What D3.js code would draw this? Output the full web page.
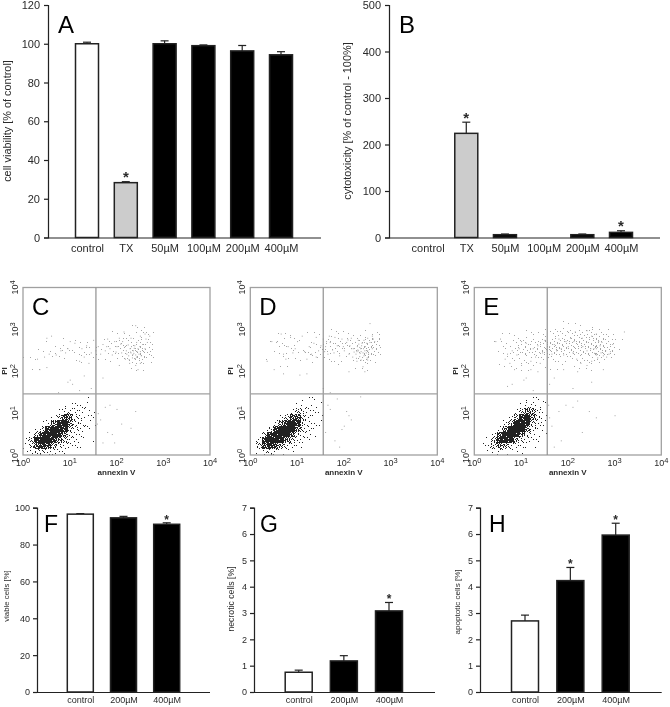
<!DOCTYPE html>
<html><head><meta charset="utf-8">
<script src="https://cdn.jsdelivr.net/npm/d3@7"></script>
<style>
html,body{margin:0;padding:0;background:#fff}
svg{display:block}
text{font-family:"Liberation Sans",Arial,sans-serif;fill:#2a2a2a}
</style></head><body>
<svg id="c" width="670" height="707"></svg>
<script>
// ---------- bar chart data ----------
const catsTop = ["control","TX","50µM","100µM","200µM","400µM"];
const catsBottom = ["control","200µM","400µM"];
const fillsTop = ["#fff","#ccc","#000","#000","#000","#000"];
const fillsBottom = ["#fff","#000","#000"];
const viability = [100,28.3,100,99,96.3,94.3];
const viabilityErr = [0.8,0.5,1.5,0.4,2.8,1.6];
const viabilityStar = [0,1,0,0,0,0];
const cytotoxicity = [0,224,6,0,6,11];
const cytotoxicityErr = [0,24,1.5,0,1.5,3.5];
const cytotoxicityStar = [0,1,0,0,0,1];
const viable = [96.5,94.5,91];
const viableErr = [0.3,0.8,0.8];
const viableStar = [0,0,1];
const necrotic = [0.75,1.18,3.08];
const necroticErr = [0.08,0.2,0.32];
const necroticStar = [0,0,1];
const apoptotic = [2.7,4.23,5.96];
const apoptoticErr = [0.22,0.5,0.45];
const apoptoticStar = [0,1,1];

// ---------- flow cytometry data (log10 annexin V, log10 PI) ----------
const decadeLabels = [0,1,2,3,4];
// density of the viable population, 0-9; rows top to bottom, cell .12 x .14 decades
const densityC = [
[0,0,0,0,0,0,0,0,0,0,1,1,0],
[0,0,0,0,0,0,0,1,1,1,1,1,0],
[0,0,0,0,0,0,1,2,3,2,2,1,1],
[0,0,0,0,0,1,4,7,6,3,2,1,1],
[0,0,0,1,2,6,8,9,6,3,2,1,1],
[0,0,1,4,8,9,9,8,4,3,2,1,0],
[0,1,5,8,9,9,8,6,3,2,1,1,0],
[1,4,8,9,9,8,6,4,2,2,1,0,1],
[1,4,7,8,7,5,3,2,2,1,1,0,0],
[1,2,3,3,2,2,1,1,0,0,0,0,0]];
const densityD = [
[0,0,0,0,0,0,0,0,0,1,1,1,0],
[0,0,0,0,0,0,0,0,1,1,1,1,1],
[0,0,0,0,0,0,1,2,4,3,2,1,1],
[0,0,0,0,0,1,4,7,7,4,2,1,1],
[0,0,0,0,2,6,8,9,8,4,2,1,1],
[0,0,0,3,7,9,9,9,6,3,2,1,0],
[0,0,4,8,9,9,9,7,3,2,1,1,0],
[0,3,8,9,9,9,6,4,2,1,1,0,0],
[0,4,7,8,7,5,3,2,1,1,0,0,0],
[0,1,2,3,2,1,1,1,0,0,0,0,0]];
const densityE = [
[0,0,0,0,0,0,0,0,0,1,1,1,1],
[0,0,0,0,0,0,0,1,1,2,2,1,1],
[0,0,0,0,0,0,0,2,4,6,5,2,1],
[0,0,0,0,0,0,2,5,8,9,6,3,1],
[0,0,0,0,0,2,5,9,9,8,4,2,1],
[0,0,0,0,2,6,9,9,9,6,3,1,1],
[0,0,0,2,7,9,9,9,6,3,2,1,1],
[0,0,1,5,8,9,8,5,3,2,1,1,0],
[0,1,2,4,6,5,3,2,2,1,1,0,0],
[0,0,1,1,2,1,1,1,1,0,0,0,0]];
// density of the upper PI band, dots per stipple tile; rows from log PI 3.2 down to 2.0, cell .2 x .2 decades
const bandC = [
[0,0,0,0,0,0,0,0,0,0,0,1,1,0,0,0],
[0,0,0,0,0,0,0,0,0,1,1,1,2,2,0,0],
[0,0,1,0,1,1,1,0,1,2,3,3,4,3,0,0],
[0,1,1,1,2,2,2,1,1,2,3,3,7,4,0,0],
[1,1,0,1,1,1,1,1,1,1,2,3,6,2,0,0],
[0,1,0,0,0,0,0,0,0,0,0,1,1,0,0,0]];
const bandD = [
[0,0,0,0,0,0,0,0,0,0,0,0,0,0,0,0],
[0,0,0,1,1,0,1,1,1,2,1,1,1,2,0,0],
[0,0,1,2,1,1,1,1,3,3,3,3,5,5,0,0],
[0,0,1,1,2,2,2,2,3,3,2,3,8,5,0,0],
[0,1,0,1,1,1,1,1,2,1,1,2,5,1,0,0],
[0,0,0,1,0,0,0,0,0,1,0,1,1,0,0,0]];
const bandE = [
[0,0,0,0,0,0,0,0,0,1,1,1,1,0,0,0],
[0,0,0,1,1,1,2,2,3,3,4,4,4,3,2,0],
[0,0,1,1,3,3,4,6,6,6,6,6,6,6,4,1],
[0,0,1,2,4,5,5,7,7,6,7,6,6,7,5,1],
[0,0,0,1,2,2,2,2,3,2,2,3,3,3,1,0],
[0,0,1,1,1,1,1,1,1,1,1,1,1,0,0,0]];
// how many of the 49 stipple positions each density step lights
const densitySteps = [0,2,4,7,12,18,26,35,43,48];
// fixed stipple order used to turn a density cell into grain
const grainOrder = [
[31,7,44,18,2,37,24],
[12,40,26,48,15,33,5],
[46,21,3,35,9,42,28],
[17,38,29,11,47,20,0],
[6,43,14,25,34,8,39],
[27,1,36,45,19,30,13],
[41,22,10,32,4,23,16]];
const cellsC = [[2.3,2.45],[2.35,2.5],[2.4,2.4],[2.25,2.38],[2.45,2.55],[2.38,2.62],[2.28,2.55],[2.42,2.35],[2.5,2.48],[2.33,2.33],[2.2,2.5],[2.47,2.42],[2.36,2.44],[2.31,2.6],[2.55,2.65],[2.42,2.7],[2.5,2.85],[2.6,2.9],[2.3,2.8],[2.12,2.72],[2.05,2.8],[1.95,2.72],[2,2.6],[1.85,2.55],[1.75,2.5],[1.7,2.65],[1.65,2.42],[1.8,2.78],[2.15,2.95],[2.4,3.1],[2.65,2.7],[2.6,2.55],[2.18,2.3],[2.27,2.2],[2.4,2.15],[2.5,2.2],[2.1,2.45],[1.9,2.4],[1.6,2.6],[1.55,2.5],[1.45,2.45],[1.35,2.62],[1.25,2.55],[1.1,2.68],[1,2.72],[0.95,2.55],[0.9,2.45],[0.8,2.5],[0.7,2.4],[0.55,2.42],[0.45,2.35],[0.3,2.3],[0.6,2.85],[0.5,2.8],[1.3,2.35],[1.2,2.25],[1.4,2.2],[1.5,2.75],[0.35,2.05],[0.5,2.1],[1,1.8],[0.95,1.75],[1.05,1.7],[0.75,1.5],[1.2,1.55],[1.45,1.6],[1.3,1.9],[1.7,1.85],[2.45,2.05],[2.05,2.15],[2.34,2.41],[2.29,2.47],[2.44,2.47],[2.39,2.31],[2.26,2.29],[2.37,2.56],[2.21,2.42],[2.52,2.38],[2.16,2.58],[2.08,2.66],[1.98,2.47],[1.78,2.6],[2.62,2.78],[2.7,2.85],[2.24,2.64],[2.49,2.6],[1.6,1.0],[1.65,0.85],[1.58,0.75],[1.75,1.15],[1.85,1.2],[2,1.1],[2.4,1.05],[1.9,0.5],[1.95,0.3],[1.8,0.55],[2.1,0.75],[2.3,0.65],[1.7,0.3]];
const cellsD = [[2.3,2.5],[2.35,2.55],[2.4,2.45],[2.25,2.42],[2.45,2.6],[2.38,2.68],[2.28,2.6],[2.42,2.38],[2.5,2.5],[2.33,2.36],[2.2,2.55],[2.47,2.45],[2.36,2.48],[2.31,2.66],[2.55,2.7],[2.42,2.75],[2.5,2.8],[2.6,2.85],[2.3,2.75],[2.12,2.62],[2.05,2.7],[1.95,2.78],[2,2.5],[1.85,2.62],[1.75,2.52],[1.7,2.7],[1.65,2.42],[1.8,2.82],[2.15,2.8],[2.55,3.15],[2.65,2.72],[2.6,2.55],[2.18,2.35],[2.27,2.25],[2.4,2.12],[2.5,2.28],[2.1,2.42],[1.9,2.38],[1.6,2.6],[1.55,2.78],[1.45,2.5],[1.35,2.68],[1.25,2.6],[1.1,2.85],[1,2.72],[0.95,2.55],[0.9,2.45],[0.8,2.6],[0.7,2.42],[0.55,2.7],[0.45,2.72],[0.35,2.25],[0.65,2.9],[0.85,2.82],[1.3,2.42],[1.2,2.3],[1.4,2.35],[1.5,2.62],[1.58,2.48],[1.62,2.72],[1.68,2.85],[1.4,2.82],[1.15,2.48],[0.75,2.3],[0.5,2.05],[0.7,1.95],[1.05,1.92],[1.2,1.95],[1.7,1.5],[1.55,1.6],[2.1,2],[2.44,2.0],[2.34,2.44],[2.29,2.52],[2.44,2.5],[2.39,2.34],[2.26,2.32],[2.37,2.62],[2.21,2.47],[2.52,2.42],[2.16,2.55],[2.08,2.76],[1.98,2.6],[1.78,2.45],[2.62,2.78],[2.48,2.68],[2.24,2.7],[2.49,2.33],[2.33,2.58],[2.41,2.55],[2.27,2.48],[2.36,2.28],[1.65,1.2],[1.85,1.35],[2.35,1.4],[1.7,1.1],[2.05,1.05],[2.15,0.85],[2,0.7],[1.95,0.62],[2.1,0.95],[1.8,0.35],[1.9,0.2],[1.6,0.55]];
const cellsE = [[2.7,2.45],[2.8,2.5],[2.6,2.4],[2.75,2.38],[2.55,2.55],[2.68,2.62],[2.48,2.55],[2.82,2.35],[2.9,2.48],[2.63,2.33],[2.4,2.5],[2.87,2.42],[2.56,2.44],[2.31,2.6],[2.95,2.65],[2.72,2.7],[2.5,2.85],[2.6,2.9],[2.3,2.8],[2.12,2.72],[2.05,2.8],[1.95,2.72],[2,2.6],[1.85,2.55],[1.75,2.5],[1.7,2.65],[1.65,2.42],[1.8,2.78],[2.15,2.95],[2.4,2.98],[2.65,2.72],[2.6,2.55],[2.18,2.3],[2.27,2.2],[2.4,2.15],[2.5,2.25],[2.1,2.45],[1.9,2.4],[1.6,2.6],[1.55,2.5],[1.45,2.45],[1.35,2.62],[1.25,2.55],[1.1,2.68],[1,2.72],[0.95,2.55],[0.9,2.4],[0.8,2.5],[0.7,2.42],[0.55,2.78],[0.45,2.72],[1.3,2.35],[1.2,2.25],[1.4,2.2],[1.5,2.75],[0.75,2.2],[1,2.15],[0.85,2.05],[0.65,2.3],[1.1,1.85],[1.05,1.8],[1.2,2.05],[1.35,2.0],[0.8,1.7],[0.7,1.65],[1.7,1.85],[1.9,2.05],[2.2,2.0],[2.75,2.05],[2.5,1.75],[2.1,1.6],[1.25,1.55],[1.6,1.7],[3.2,2.95],[2.45,1.05],[1.95,1.2],[2.1,1.15],[1.6,0.9],[1.65,0.7],[2.6,0.9],[2.3,0.55],[1.8,1.05],[1.85,0.35],[1.7,0.2],[2.2,1.3],[1.58,1.2],[3,0.95]];

// ---------- bar panels ----------
const svg = d3.select("#c");
const defs = svg.append("defs");
defs.append("filter").attr("id","soft").append("feGaussianBlur").attr("stdDeviation",0.3);
defs.append("filter").attr("id","grain").append("feGaussianBlur").attr("stdDeviation",0.5);
defs.append("filter").attr("id","faint").append("feGaussianBlur").attr("stdDeviation",0.6);
const root = svg.append("g").attr("filter","url(#soft)");

function barPanel(o){
  const y = d3.scaleLinear().domain([0,o.max]).range([o.y0,o.y1]);
  const x = d3.scalePoint().domain(o.cats).range([o.cx0,o.cx1]);
  const g = root.append("g");
  const yAxis = g.append("g").attr("transform",`translate(${o.ax},0)`)
    .call(d3.axisLeft(y).tickValues(d3.range(0,o.max+o.step/2,o.step)).tickSize(4).tickPadding(o.pad).tickFormat(d3.format("d")));
  const xAxis = g.append("g").attr("transform",`translate(0,${o.y0})`)
    .call(d3.axisBottom(x).tickSize(0).tickPadding(o.xpad));
  xAxis.select(".domain").attr("d",`M${o.ax},0.5H${o.axEnd}`);
  [yAxis,xAxis].forEach(a=>{
    a.selectAll("text").style("font-size",o.fs+"px").style("font-family","'Liberation Sans'").attr("fill","#2a2a2a");
    a.selectAll(".domain,line").attr("stroke","#222").attr("stroke-width",1.2);
  });
  // error bars, upper only
  o.vals.forEach((v,i)=>{
    if(o.errs[i]===0) return;
    const cx=x(o.cats[i]), top=y(v+o.errs[i]);
    g.append("line").attr("x1",cx).attr("x2",cx).attr("y1",y(v)).attr("y2",top).attr("stroke","#222").attr("stroke-width",1.2);
    g.append("line").attr("x1",cx-o.cap).attr("x2",cx+o.cap).attr("y1",top).attr("y2",top).attr("stroke","#222").attr("stroke-width",1.2);
  });
  g.selectAll("rect.bar").data(o.vals).join("rect").attr("class","bar")
    .attr("x",(d,i)=>x(o.cats[i])-o.bw/2).attr("width",o.bw)
    .attr("y",d=>y(d)).attr("height",d=>Math.max(0,y(0)-y(d)))
    .attr("fill",(d,i)=>o.fills[i]).attr("stroke","#222").attr("stroke-width",1.5)
    .style("display",d=>d===0?"none":null);
  o.vals.forEach((v,i)=>{
    if(!o.stars[i]) return;
    g.append("text").attr("x",x(o.cats[i])).attr("y",y(v+o.errs[i])+o.starDy).attr("text-anchor","middle")
     .attr("font-size",o.starFs).attr("font-weight","bold").text("*");
  });
  g.append("text").attr("transform",`translate(${o.lx},${o.ly}) rotate(-90)`).attr("text-anchor","middle")
   .attr("font-size",o.lfs).text(o.label);
  g.append("text").attr("x",o.px).attr("y",o.py).attr("font-size",o.pfs).attr("fill","#000").style("fill","#000").text(o.panel);
}
const topCfg = {y0:237.5,y1:5,cats:catsTop,fills:fillsTop,bw:23,cap:4,fs:11,lfs:10.9,pad:4,xpad:7,starFs:15,starDy:0.5,pfs:24,py:33};
const botCfg = {y0:692,y1:507.7,cats:catsBottom,fills:fillsBottom,bw:26,cap:4,fs:9,pad:3,xpad:5,starFs:12,starDy:1,pfs:23,py:532};
barPanel({...topCfg,max:120,step:20,ax:48,axEnd:321,cx0:87,cx1:281,vals:viability,errs:viabilityErr,stars:viabilityStar,label:"cell viability [% of control]",lx:11,ly:121,px:58,panel:"A"});
barPanel({...topCfg,max:500,step:100,ax:389,axEnd:660,cx0:427.6,cx1:621,vals:cytotoxicity,errs:cytotoxicityErr,stars:cytotoxicityStar,label:"cytotoxicity [% of control - 100%]",lx:351,ly:121,px:399,panel:"B"});
barPanel({...botCfg,max:100,step:20,ax:37,axEnd:210,cx0:80.3,cx1:166.7,vals:viable,errs:viableErr,stars:viableStar,label:"viable cells [%]",lfs:7.8,lx:9,ly:596,px:44,panel:"F"});
barPanel({...botCfg,max:7,step:1,ax:254,axEnd:435,cx0:298.7,cx1:389,vals:necrotic,errs:necroticErr,stars:necroticStar,label:"necrotic cells [%]",lfs:8.7,lx:234,ly:599,px:260,panel:"G",bw:27});
barPanel({...botCfg,max:7,step:1,ax:480,axEnd:661.7,cx0:525,cx1:615.7,vals:apoptotic,errs:apoptoticErr,stars:apoptoticStar,label:"apoptotic cells [%]",lfs:8.1,lx:460,ly:602,px:489,panel:"H",bw:27});

// ---------- flow cytometry panels ----------
function flowPanel(o){
  const x = d3.scaleLinear().domain([0,4]).range([o.left,o.left+187]);
  const y = d3.scaleLinear().domain([0,4]).range([455,287.5]);
  const g = root.append("g");
  const stipple=(grid,dx,dy,y0val,limit)=>{
    const out=[];
    grid.forEach((row,r)=>{
      const j=grid.length-1-r;
      row.forEach((v,i)=>{
        if(!v) return;
        const x0=Math.round(x(i*dx)),x1=Math.round(x((i+1)*dx));
        const y1=Math.round(y(y0val+j*dy)),y0=Math.round(y(y0val+(j+1)*dy));
        for(let px=x0;px<x1;px++)for(let py=y0;py<y1;py++){
          // the tile is shifted from cell to cell so that it does not read as a lattice
          if(grainOrder[(py+j*3+i*5)%7][(px+i*2+j*4)%7]<limit(v)) out.push([px,py]);
        }
      });
    });
    return out;
  };
  const faint = g.append("g").attr("filter","url(#faint)");
  faint.selectAll("rect.b").data(stipple(o.band,0.2,0.2,2.0,v=>v)).join("rect").attr("class","b")
    .attr("x",d=>d[0]).attr("y",d=>d[1]).attr("width",1).attr("height",1).attr("fill","#a5a5a5");
  faint.selectAll("rect.c").data(o.cells).join("rect").attr("class","c")
    .attr("x",d=>x(d[0])).attr("y",d=>y(d[1])).attr("width",1).attr("height",1).attr("fill","#a5a5a5");
  const dots = g.append("g").attr("filter","url(#grain)");
  dots.selectAll("rect.g").data(stipple(o.density,0.12,0.14,0,v=>densitySteps[v])).join("rect").attr("class","g")
    .attr("x",d=>d[0]).attr("y",d=>d[1]).attr("width",1).attr("height",1).attr("fill",d=>"#222");
  g.append("rect").attr("x",x(0)).attr("y",y(4)).attr("width",x(4)-x(0)).attr("height",y(0)-y(4))
    .attr("fill","none").attr("stroke","#a0a0a0").attr("stroke-width",1.3);
  g.append("line").attr("x1",x(o.gx)).attr("x2",x(o.gx)).attr("y1",y(0)).attr("y2",y(4)).attr("stroke","#909090").attr("stroke-width",1.2);
  g.append("line").attr("x1",x(0)).attr("x2",x(4)).attr("y1",y(1.46)).attr("y2",y(1.46)).attr("stroke","#a0a0a0").attr("stroke-width",1.2);
  decadeLabels.forEach(d=>{
    const t=g.append("text").attr("x",x(d)).attr("y",466).attr("text-anchor","middle").attr("font-size",9);
    t.append("tspan").text("10");
    t.append("tspan").attr("dy",-3).attr("font-size",7.5).text(d);
    const u=g.append("text").attr("transform",`translate(${o.left-5},${y(d)-(d==0?-1:0)}) rotate(-90)`).attr("text-anchor","middle").attr("font-size",9);
    u.append("tspan").text("10");
    u.append("tspan").attr("dy",-3).attr("font-size",7.5).text(d);
  });
  g.append("text").attr("x",x(2)).attr("y",475).attr("text-anchor","middle").attr("font-size",8).attr("font-weight","bold").text("annexin V");
  g.append("text").attr("transform",`translate(${o.plx},371) rotate(-90)`).attr("text-anchor","middle").attr("font-size",8).attr("font-weight","bold").text("PI");
  g.append("text").attr("x",o.left+9).attr("y",315).attr("font-size",24).style("fill","#000").text(o.panel);
}
flowPanel({left:23,gx:1.56,density:densityC,band:bandC,cells:cellsC,panel:"C",plx:6.5});
flowPanel({left:250.3,gx:1.56,density:densityD,band:bandD,cells:cellsD,panel:"D",plx:233});
flowPanel({left:474.3,gx:1.56,density:densityE,band:bandE,cells:cellsE,panel:"E",plx:458});
</script>
</body></html>
